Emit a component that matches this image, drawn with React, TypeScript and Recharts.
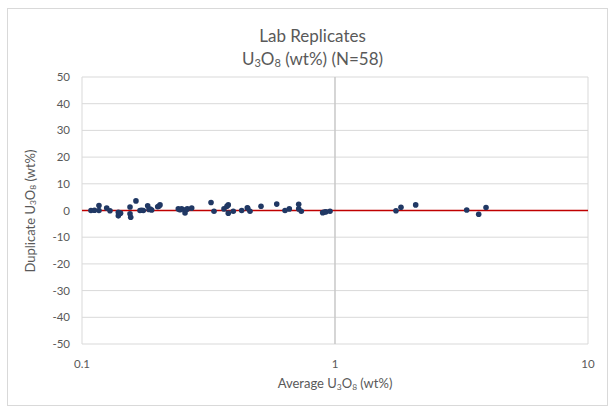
import {
  CartesianGrid,
  ReferenceLine,
  Scatter,
  ScatterChart,
  XAxis,
  YAxis,
} from 'recharts';

// average U3O8 (wt%) per replicate pair
const averageValues = [
  0.1085, 0.1167, 0.1167, 0.1252, 0.129, 0.1392, 0.1392, 0.1548, 0.1548, 0.1558,
  0.1634, 0.1695, 0.1747, 0.1818, 0.184, 0.1886, 0.1992, 0.2034, 0.2402, 0.2477,
  0.2554, 0.2608, 0.2714, 0.3236, 0.3325, 0.3641, 0.3786, 0.3786, 0.3963, 0.4278,
  0.4502, 0.4613, 0.51, 0.5884, 0.6345, 0.6597, 0.7187, 0.7187, 0.7359, 0.894,
  0.921, 0.9555, 1.742, 1.823, 2.084, 3.316, 3.698, 3.953, 0.112, 0.142,
  0.172, 0.186, 0.201, 0.244, 0.258, 0.374, 0.452, 0.908,
];

// relative difference of the duplicate (%)
const duplicateValues = [
  0, 1.9, 0, 0.9, -0.1, -0.7, -2, 1.3, -1.2, -2.5,
  3.6, 0, 0, 1.8, 0.4, 0.2, 1.4, 2.1, 0.6, 0.6,
  -0.9, 0.6, 0.9, 3.0, -0.3, 0.6, 2.1, -1, -0.3, 0,
  1, -0.3, 1.6, 2.4, 0, 0.6, 2.3, 0.6, -0.3, -0.8,
  -0.5, -0.3, -0.1, 1.2, 2.1, 0.2, -1.4, 1.1, 0.1, -1.0,
  0.1, 0.5, 1.6, 0.3, 0.4, 1.6, 0.8, -0.6,
];

const xTicks = [0.1, 1, 10];
const yTicks = [-50, -40, -30, -20, -10, 0, 10, 20, 30, 40, 50];

const data = averageValues.map((x, i) => ({ x, y: duplicateValues[i] }));

const font = 'Lato, "Open Sans", sans-serif';
const textColor = '#595959';

function U3O8() {
  return (
    <>
      U<sub style={{ fontSize: '0.65em', verticalAlign: '-0.2em' }}>3</sub>O
      <sub style={{ fontSize: '0.65em', verticalAlign: '-0.2em' }}>8</sub>
    </>
  );
}

function Dot(props: any) {
  const { cx, cy } = props;
  return <circle cx={cx} cy={cy} r={2.8} fill="#203864" />;
}

export default function App() {
  return (
    <div
      style={{
        position: 'absolute',
        left: 0,
        top: 0,
        width: 615,
        height: 411,
        background: '#fff',
        fontFamily: font,
        color: textColor,
      }}
    >
      <div
        style={{
          position: 'absolute',
          left: 7,
          top: 8,
          width: 599,
          height: 396,
          border: '1px solid #d9d9d9',
        }}
      />
      <div
        style={{
          position: 'absolute',
          top: 24,
          width: '100%',
          textAlign: 'center',
          fontSize: 17,
          lineHeight: '23px',
        }}
      >
        <div style={{ paddingLeft: 10 }}>Lab Replicates</div>
        <div style={{ paddingLeft: 10 }}>
          <U3O8 /> (wt%) (N=58)
        </div>
      </div>
      <div
        style={{
          position: 'absolute',
          left: 82,
          width: 506,
          top: 375,
          textAlign: 'center',
          fontSize: 13,
        }}
      >
        Average <U3O8 /> (wt%)
      </div>
      <div
        style={{
          position: 'absolute',
          left: 30,
          top: 211,
          transform: 'translate(-50%, -50%) rotate(-90deg)',
          whiteSpace: 'nowrap',
          fontSize: 13,
        }}
      >
        Duplicate <U3O8 /> (wt%)
      </div>
      <ScatterChart
        width={615}
        height={411}
        margin={{ top: 77, right: 27, bottom: 37, left: 22 }}
      >
        <CartesianGrid stroke="#d9d9d9" />
        <XAxis
          type="number"
          dataKey="x"
          scale="log"
          domain={[0.1, 10]}
          ticks={xTicks}
          allowDataOverflow
          axisLine={false}
          tickLine={false}
          tickMargin={10}
          height={30}
          tickFormatter={(v) => String(v)}
          tick={{ fill: textColor, fontSize: 11.5, fontFamily: font }}
        />
        <YAxis
          type="number"
          dataKey="y"
          domain={[-50, 50]}
          ticks={yTicks}
          axisLine={false}
          tickLine={false}
          tickMargin={6}
          width={60}
          tick={{ fill: textColor, fontSize: 11.5, fontFamily: font }}
        />
        <ReferenceLine x={1} stroke="#bfbfbf" strokeWidth={1} />
        <ReferenceLine y={0} stroke="#c00000" strokeWidth={1.5} />
        <Scatter data={data} shape={Dot} isAnimationActive={false} />
      </ScatterChart>
    </div>
  );
}
